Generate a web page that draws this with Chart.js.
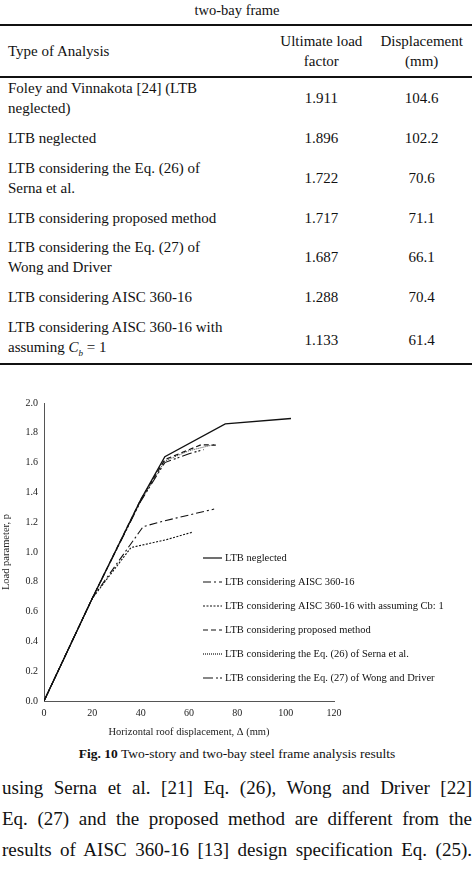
<!DOCTYPE html>
<html>
<head>
<meta charset="utf-8">
<script src="https://cdn.jsdelivr.net/npm/chart.js@4"></script>
<style>
  body { margin: 0; width: 474px; height: 872px; overflow: hidden; background: #fff; font-family: "Liberation Serif", "Times New Roman", "DejaVu Serif", serif; color: #111; position: relative; }
  .ttl { position: absolute; top: 2px; width: 474px; text-align: center; font-size: 14.5px; }
  table { position: absolute; top: 24px; left: 0; width: 472px; border-collapse: collapse; font-family: inherit; font-size: 15px; border-top: 2px solid #111; border-bottom: 2px solid #111; }
  th { font-weight: normal; border-bottom: 2px solid #111; height: 50px; padding: 0; line-height: 20px; }
  td { padding: 0; height: 39.7px; line-height: 20px; vertical-align: middle; }
  td:first-child, th:first-child { padding-left: 8px; text-align: left; }
  .c { text-align: center; }
  #wrap { position: absolute; left: 0; top: 395px; width: 474px; height: 348px; }
  .cap { position: absolute; top: 746px; width: 474px; text-align: center; font-size: 13.5px; }
  .txt { position: absolute; left: 2px; width: 470px; font-size: 19px; text-align: justify; text-align-last: justify; white-space: nowrap; }
</style>
</head>
<body>
<div class="ttl">two-bay frame</div>
<table>
  <tr><th>Type of Analysis</th><th class="c">Ultimate load<br>factor</th><th class="c">Displacement<br>(mm)</th></tr>
  <tr><td>Foley and Vinnakota [24] (LTB<br>neglected)</td><td class="c">1.911</td><td class="c">104.6</td></tr>
  <tr><td>LTB neglected</td><td class="c">1.896</td><td class="c">102.2</td></tr>
  <tr><td>LTB considering the Eq. (26) of<br>Serna et al.</td><td class="c">1.722</td><td class="c">70.6</td></tr>
  <tr><td>LTB considering proposed method</td><td class="c">1.717</td><td class="c">71.1</td></tr>
  <tr><td>LTB considering the Eq. (27) of<br>Wong and Driver</td><td class="c">1.687</td><td class="c">66.1</td></tr>
  <tr><td>LTB considering AISC 360-16</td><td class="c">1.288</td><td class="c">70.4</td></tr>
  <tr><td>LTB considering AISC 360-16 with<br>assuming <i>C<sub style="font-size:9px">b</sub></i> = 1</td><td class="c">1.133</td><td class="c">61.4</td></tr>
</table>
<div id="wrap"><canvas id="chart"></canvas></div>
<div class="cap"><b>Fig. 10</b> Two-story and two-bay steel frame analysis results</div>
<div class="txt" style="top:777px">using Serna et al. [21] Eq. (26), Wong and Driver [22]</div>
<div class="txt" style="top:808px">Eq. (27) and the proposed method are different from the</div>
<div class="txt" style="top:839px">results of AISC 360-16 [13] design specification Eq. (25).</div>
<script>
const labels = [
  'LTB neglected',
  'LTB considering AISC 360-16',
  'LTB considering AISC 360-16 with assuming Cb: 1',
  'LTB considering proposed method',
  'LTB considering the Eq. (26) of Serna et al.',
  'LTB considering the Eq. (27) of Wong and Driver'
];
const neglectedX = [0, 20, 40, 50, 75, 102.2];
const neglectedY = [0, 0.69, 1.35, 1.64, 1.86, 1.896];
const aiscX = [0, 20, 41, 50, 70.4];
const aiscY = [0, 0.69, 1.17, 1.21, 1.288];
const aiscCbX = [0, 20, 36, 50, 61.4];
const aiscCbY = [0, 0.69, 1.03, 1.08, 1.133];
const proposedX = [0, 20, 40, 50, 65, 71.1];
const proposedY = [0, 0.69, 1.35, 1.62, 1.72, 1.717];
const sernaX = [0, 20, 40, 50, 60, 70.6];
const sernaY = [0, 0.69, 1.34, 1.61, 1.68, 1.722];
const wongX = [0, 20, 40, 50, 60, 66.1];
const wongY = [0, 0.69, 1.34, 1.60, 1.66, 1.687];
const xTicks = [0, 20, 40, 60, 80, 100, 120];

const FONT = '"Liberation Serif", "Times New Roman", serif';
const dashes = [[], [8, 3, 2, 3], [2, 1.5], [5, 3], [1, 1], [10, 3, 2, 2, 2, 3]];
const widths = [1.3, 1.1, 1.1, 1.2, 0.8, 1.1];
const series = [[neglectedX, neglectedY], [aiscX, aiscY], [aiscCbX, aiscCbY],
  [proposedX, proposedY], [sernaX, sernaY], [wongX, wongY]];
const pts = (xs, ys) => xs.map((x, i) => ({ x, y: ys[i] }));

const legendPlugin = {
  id: 'innerLegend',
  afterDraw(chart) {
    const { ctx } = chart;
    ctx.save();
    ctx.font = '10.5px ' + FONT;
    ctx.fillStyle = '#111';
    ctx.textBaseline = 'middle';
    chart.data.datasets.forEach((ds, i) => {
      const y = 163 + i * 24;
      ctx.strokeStyle = '#111';
      ctx.lineWidth = 1.2;
      ctx.setLineDash(ds.borderDash);
      ctx.beginPath(); ctx.moveTo(203, y); ctx.lineTo(222, y); ctx.stroke();
      ctx.setLineDash([]);
      ctx.fillText(ds.label, 225, y);
    });
    ctx.restore();
  }
};

new Chart(document.getElementById('chart'), {
  type: 'scatter',
  data: {
    datasets: series.map((s, i) => ({
      label: labels[i],
      data: pts(s[0], s[1]),
      showLine: true,
      borderColor: '#111',
      borderWidth: widths[i],
      borderDash: dashes[i],
      pointRadius: 0,
      fill: false
    }))
  },
  options: {
    responsive: true,
    maintainAspectRatio: false,
    animation: false,
    layout: { padding: { top: 8, right: 140, left: 0, bottom: 0 } },
    plugins: { legend: { display: false }, tooltip: { enabled: false } },
    scales: {
      x: {
        type: 'linear', min: 0, max: 120,
        afterBuildTicks: a => { a.ticks = xTicks.map(v => ({ value: v })); },
        grid: { display: false, drawTicks: true, tickLength: 4, tickColor: '#555' },
        border: { color: '#555' },
        ticks: { color: '#222', font: { family: FONT, size: 10 }, padding: 2, maxRotation: 0 },
        title: { display: true, text: 'Horizontal roof displacement, Δ (mm)', color: '#222', font: { family: FONT, size: 10.5 }, padding: { top: 2 } },
        afterFit: a => { a.height = 42; }
      },
      y: {
        type: 'linear', min: 0, max: 2.0,
        grid: { display: false, tickLength: 4, tickColor: '#555' },
        border: { color: '#555' },
        ticks: { stepSize: 0.2, color: '#222', font: { family: FONT, size: 10 }, padding: 2, callback: v => v.toFixed(1) },
        title: { display: true, text: 'Load parameter, p', color: '#222', font: { family: FONT, size: 10.5 }, padding: 0 },
        afterFit: a => { a.width = 44; }
      }
    }
  },
  plugins: [legendPlugin]
});
</script>
</body>
</html>
